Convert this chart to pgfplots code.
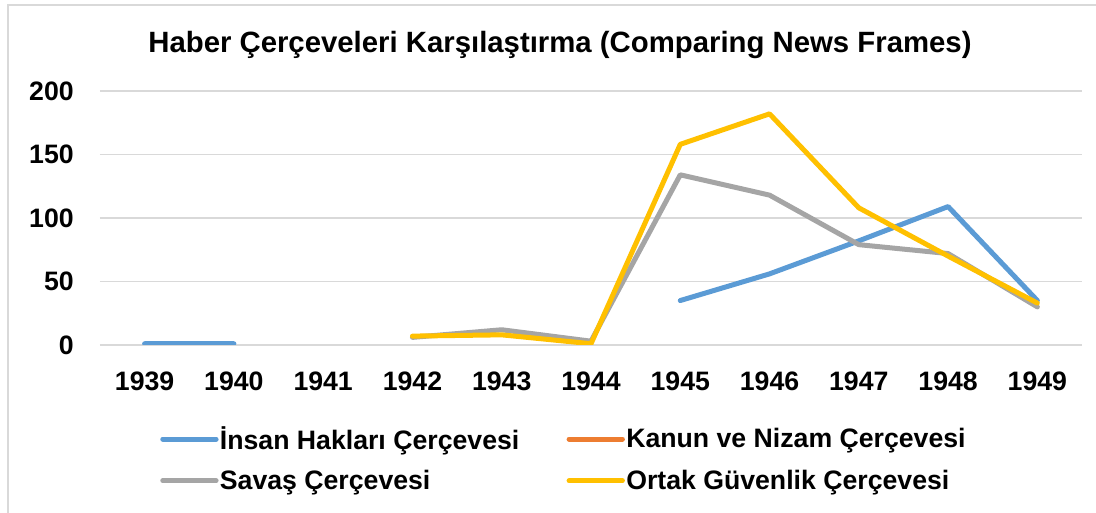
\documentclass[border=0pt]{standalone}
\usepackage{pgfplots}
\pgfplotsset{compat=1.18}
\usepackage{fontspec}
\setmainfont{Liberation Sans}

\definecolor{cBlue}{HTML}{5B9BD5}
\definecolor{cOrange}{HTML}{ED7D31}
\definecolor{cGray}{HTML}{A5A5A5}
\definecolor{cYellow}{HTML}{FFC000}
\definecolor{cGrid}{HTML}{D9D9D9}

\begin{document}
\begin{tikzpicture}
% page frame: 1096 x 513 px at 0.75pt/px, plot origin at px (100,345)
\path[use as bounding box] (-75pt,-126pt) rectangle (747pt,258.75pt);
\draw[cGrid, line width=1.5pt] (-69pt,-126pt) -- (-69pt,255pt) -- (747pt,255pt);
\begin{axis}[
    at={(0pt,0pt)}, anchor=origin,
    scale only axis,
    width=736.5pt, height=190.5pt,
    xmin=1938.5, xmax=1949.5,
    ymin=0, ymax=200,
    xtick={1939,1940,...,1949},
    ytick={0,50,...,200},
    axis line style={draw=none},
    major tick length=0pt,
    ymajorgrids,
    grid style={cGrid, line width=1.1pt},
    unbounded coords=jump,
    font=\fontsize{20}{24}\selectfont\bfseries,
    /pgf/number format/assume math mode=true,
    /pgf/number format/1000 sep={},
    xticklabel style={anchor=base, inner sep=0pt, yshift=-34.5pt},
    yticklabel style={anchor=base east, inner sep=0pt, xshift=-19.5pt, yshift=-7pt},
    title={\fontsize{22}{26}\selectfont\bfseries Haber Çerçeveleri Karşılaştırma (Comparing News Frames)},
    title style={at={(345pt,213.5pt)}, anchor=base, inner sep=0pt},
    legend columns=2,
    legend cell align=left,
    legend style={draw=none, fill=none, inner sep=0pt,
        at={(45pt,-85.5pt)}, anchor=west,
        row sep=14pt,
        nodes={inner sep=0pt, font=\fontsize{20}{24}\selectfont\bfseries}},
    legend image code/.code={\draw[#1, line width=3.75pt, line cap=round] (0pt,0pt) -- (40pt,0pt);},
    every axis plot/.append style={line width=3.75pt, line cap=round, line join=round, mark=none},
]
\addplot[cBlue] coordinates {
(1939,1) (1940,1) (1941,nan) (1942,nan) (1943,nan) (1944,nan)
(1945,35) (1946,56) (1947,82) (1948,109) (1949,35)
};
\addlegendentry{\makebox[261pt][l]{\hspace{1pt}İnsan Hakları Çerçevesi}}
\addlegendimage{cOrange}
\addlegendentry{\hspace{1pt}Kanun ve Nizam Çerçevesi}
\addplot[cGray] coordinates {
(1942,6) (1943,12) (1944,3) (1945,134) (1946,118) (1947,79) (1948,72) (1949,30)
};
\addlegendentry{\makebox[261pt][l]{\hspace{1pt}Savaş Çerçevesi}}
\addplot[cYellow] coordinates {
(1942,7) (1943,8) (1944,1) (1945,158) (1946,182) (1947,108) (1948,70) (1949,33)
};
\addlegendentry{\hspace{1pt}Ortak Güvenlik Çerçevesi}
\end{axis}
\end{tikzpicture}
\end{document}
